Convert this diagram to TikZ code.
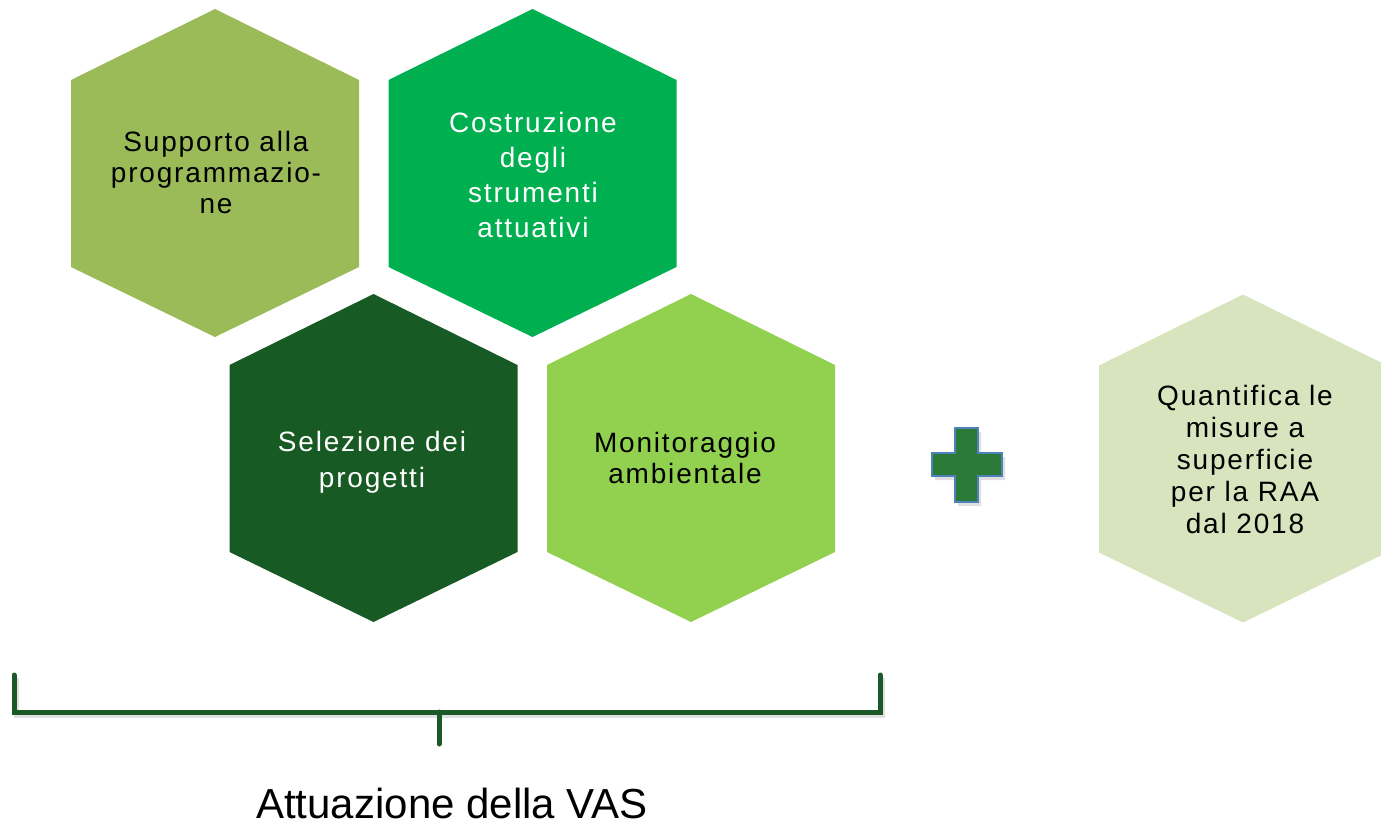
\documentclass[tikz,border=0pt]{standalone}
\usepackage{fontspec}
\setmainfont{Liberation Sans}
\newfontfamily\hexfont[LetterSpace=6.5]{Liberation Sans}
\definecolor{hexA}{HTML}{9BBB59}
\definecolor{hexB}{HTML}{00B050}
\definecolor{hexC}{HTML}{185A24}
\definecolor{hexD}{HTML}{92D050}
\definecolor{hexE}{HTML}{D7E4BD}
\definecolor{plusfill}{HTML}{2C7A37}
\definecolor{plusedge}{HTML}{4F81BD}
\definecolor{brack}{HTML}{1B5A26}
\newcommand{\hexpath}[3]{%
  \fill[#3] (#1,#2-164) -- (#1+144,#2-93) -- (#1+144,#2+94) -- (#1,#2+164)
    -- (#1-144,#2+94) -- (#1-144,#2-93) -- cycle;}
\tikzset{
  hextext/.style={align=center, font=\hexfont\fontsize{28}{#1}\selectfont, inner sep=0pt},
  bracketline/.style={draw=brack, line width=5pt, line cap=round, line join=miter},
}
\begin{document}
\begin{tikzpicture}[x=1pt,y=-1pt]
\useasboundingbox (0,0) rectangle (1381,824);
% hexagons
\hexpath{215}{173}{hexA}
\hexpath{532.5}{173}{hexB}
\hexpath{373.5}{458}{hexC}
\hexpath{691}{458}{hexD}
\hexpath{1243}{458.5}{hexE}
% texts
\node[hextext=31, text=black] (supp) at (216,172.5) {Supporto alla\\programmazio-\\ne};
\node[hextext=35, text=white] (costr) at (533,174.5) {Costruzione\\degli\\strumenti\\attuativi};
\node[hextext=36, text=white] (sel) at (372,462) {Selezione dei\\progetti};
\node[hextext=31, text=black] (mon) at (685,457.5) {Monitoraggio\\ambientale};
\node[hextext=32, text=black] (quant) at (1245,459) {Quantifica le\\misure a\\superficie\\per la RAA\\dal 2018};
% plus sign
\fill[black!25, opacity=0.5] (958,432) -- (981,432) -- (981,457) -- (1005,457) -- (1005,480) -- (981,480) -- (981,506) -- (958,506) -- (958,480) -- (935,480) -- (935,457) -- (958,457) -- cycle;
\filldraw[fill=plusfill, draw=plusedge, line width=1.5pt] (955,428) -- (978,428) -- (978,453) -- (1002,453) -- (1002,476) -- (978,476) -- (978,502) -- (955,502) -- (955,476) -- (932,476) -- (932,453) -- (955,453) -- cycle;
% bracket
\coordinate (bl) at (14,675);
\coordinate (blc) at (14,712);
\coordinate (brc) at (880,712);
\coordinate (br) at (880,675);
\coordinate (tm) at (439,712);
\coordinate (tb) at (439,744);
\draw[draw=black!20, line width=5pt, opacity=0.6] ([shift={(2,3)}]bl) -- ([shift={(2,3)}]blc) -- ([shift={(2,3)}]brc) -- ([shift={(2,3)}]br);
\draw[bracketline] (bl) -- (blc) -- (brc) -- (br);
\draw[bracketline] (tm) -- (tb);
\node[anchor=base, font=\fontsize{42}{48}\selectfont, inner sep=0pt] (label) at (452,818) {Attuazione della VAS};
\end{tikzpicture}
\end{document}
